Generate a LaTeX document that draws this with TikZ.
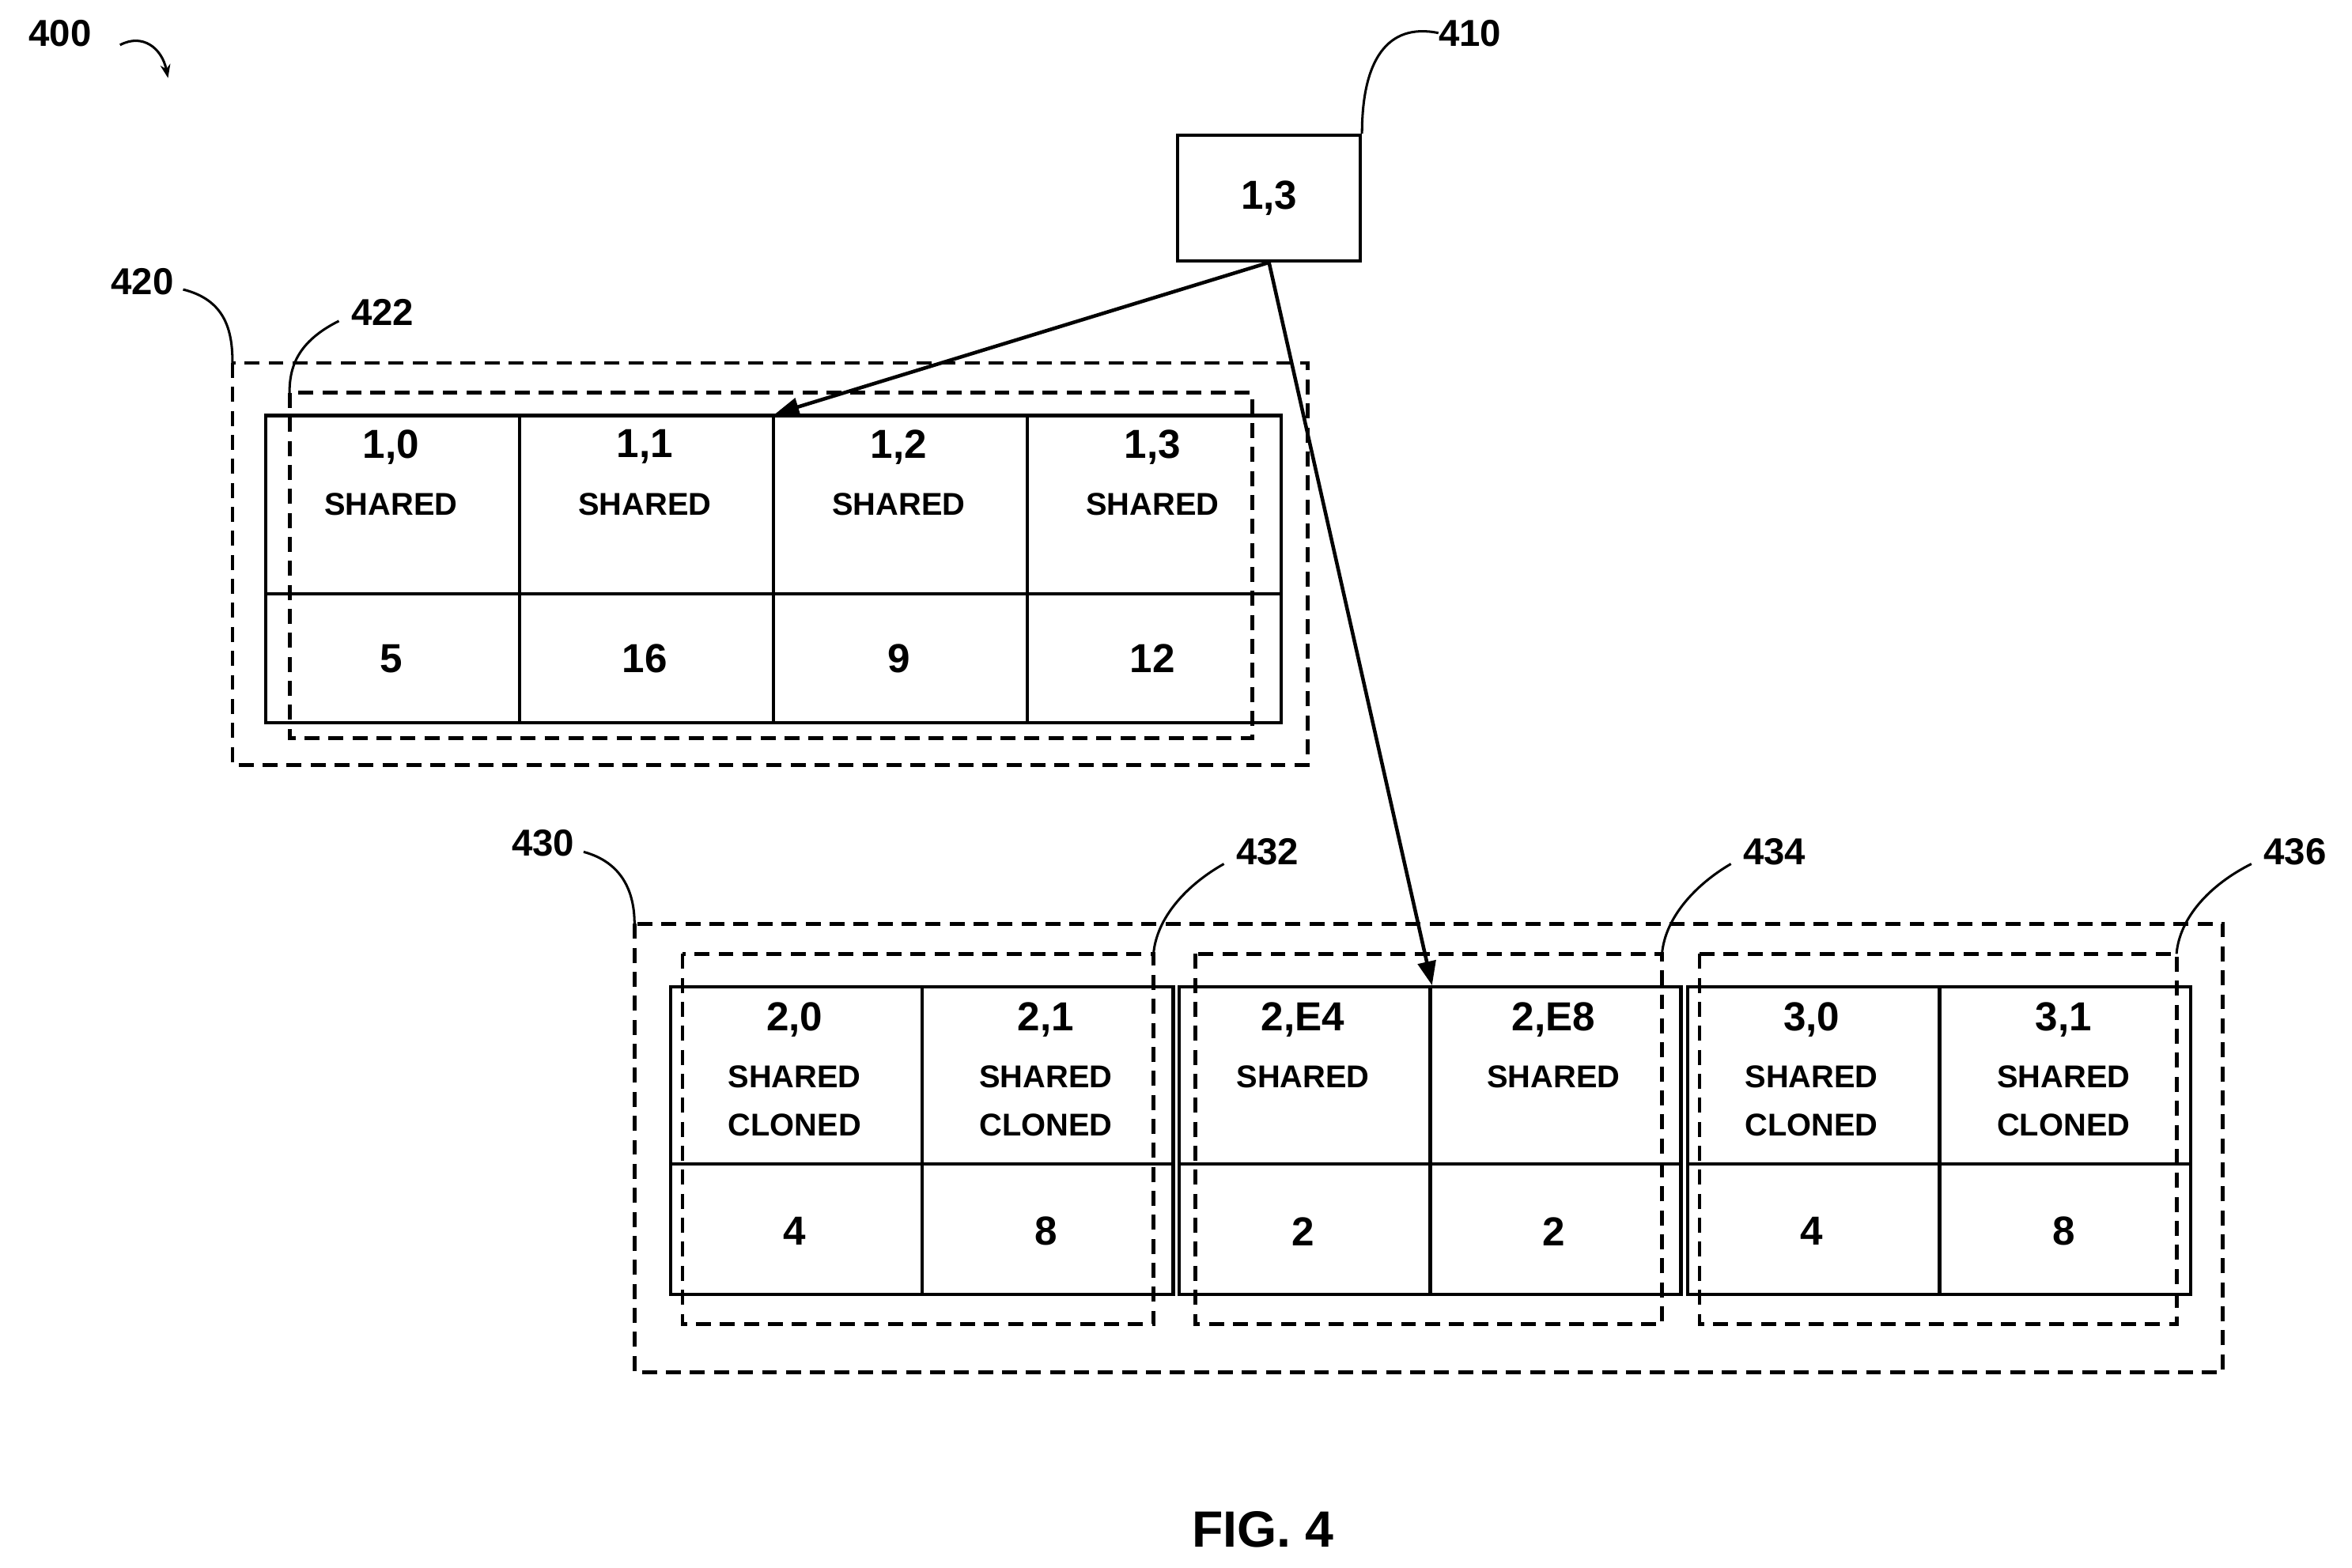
\documentclass[tikz,border=0pt]{standalone}
\usepackage{fontspec}
\setmainfont{Liberation Sans}
\usetikzlibrary{arrows.meta}
\begin{document}
\begin{tikzpicture}[x=1pt,y=-1pt,
  cell/.style={draw,line width=2.2pt,minimum width=#1,inner sep=0pt,anchor=north west,rectangle},
  dbox/.style={draw,line width=2.6pt,dash pattern=on 10pt off 6pt},
  lbl/.style={font=\fontsize{25}{25}\selectfont\bfseries,inner sep=0pt},
  big/.style={font=\fontsize{27}{27}\selectfont\bfseries,inner sep=0pt},
  sm/.style={font=\fontsize{21}{21}\selectfont\bfseries,inner sep=0pt},
  lead/.style={line width=1.6pt},
  arr/.style={line width=2.4pt,-{Triangle[length=16pt,width=12pt]}}]
\useasboundingbox (0,0) rectangle (1568,1045);
% 400
\node[lbl] (l400) at (40,22) {400};
\coordinate (a400s) at (80,30);
\coordinate (a400e) at (112,52);
\draw[line width=1.6pt,-{Stealth[length=9pt]}] (a400s) .. controls (95,22) and (108,32) .. (a400e);
% 410
\node[draw,line width=2pt,minimum width=122pt,minimum height=84pt,inner sep=0pt] (b410) at (846,132) {};
\node[big] (t410) at (846,132) {1,3};
\node[lbl] (l410) at (980,22) {410};
\draw[lead] (b410.north east) .. controls (908,40) and (925,15) .. (l410.west);
% 420
\draw[dbox] (155,242) rectangle (872,510);
\coordinate (d420) at (155,242);
\node[lbl] (l420) at (95,188) {420};
\draw[lead] (l420.east) ++(6,5) .. controls (150,200) and (155,220) .. (d420);
\draw[dbox] (193,262) rectangle (835,492);
\coordinate (d422) at (193,262);
\node[lbl] (l422) at (255,208) {422};
\draw[lead] (l422.west) ++(-8,6) .. controls (198,228) and (193,245) .. (d422);
% table 1
\foreach \i/\x/\t/\n in {0/176/{1,0}/5,1/345.25/{1,1}/16,2/514.5/{1,2}/9,3/683.75/{1,3}/12}{
  \node[cell=169.25pt,minimum height=119pt] (u\i) at (\x,276) {};
  \node[cell=169.25pt,minimum height=86pt] (v\i) at (\x,395) {};
  \node[big] at (\x+84.6,298) {\t};
  \node[sm] at (\x+84.6,336) {SHARED};
  \node[big] at (\x+84.6,439) {\n};
}
% 430
\draw[dbox] (423,616) rectangle (1482,915);
\coordinate (d430) at (423,616);
\node[lbl] (l430) at (362,562) {430};
\draw[lead] (l430.east) ++(6,6) .. controls (415,575) and (423,595) .. (d430);
\foreach \nm/\xa/\xb/\lx in {432/455/769/845,434/797/1108/1183,436/1133/1451/1530}{
  \draw[dbox] (\xa,636) rectangle (\xb,883);
  \coordinate (d\nm) at (\xb,636);
  \node[lbl] (l\nm) at (\lx,568) {\nm};
  \draw[lead] (l\nm.west) ++(-8,8) .. controls (\xb+22,590) and (\xb+2,612) .. (d\nm);
}
% table 2
\foreach \i/\x/\t/\n/\c in {0/446/{2,0}/4/1,1/613.5/{2,1}/8/1,2/785/{2,E4}/2/0,3/952/{2,E8}/2/0,4/1124/{3,0}/4/1,5/1292/{3,1}/8/1}{
  \node[cell=167.5pt,minimum height=118pt] (p\i) at (\x,657) {};
  \node[cell=167.5pt,minimum height=87pt] (q\i) at (\x,775) {};
  \node[big] at (\x+83.7,680) {\t};
  \node[sm] at (\x+83.7,718) {SHARED};
  \ifnum\c=1 \node[sm] at (\x+83.7,750) {CLONED};\fi
  \node[big] at (\x+83.7,821) {\n};
}
% arrows
\draw[arr] (b410.south) -- (u1.north east);
\draw[arr] (b410.south) -- (p2.north east);
\node[font=\fontsize{34}{34}\selectfont\bfseries,inner sep=0pt] (fig) at (842,1020) {FIG. 4};
\end{tikzpicture}
\end{document}
